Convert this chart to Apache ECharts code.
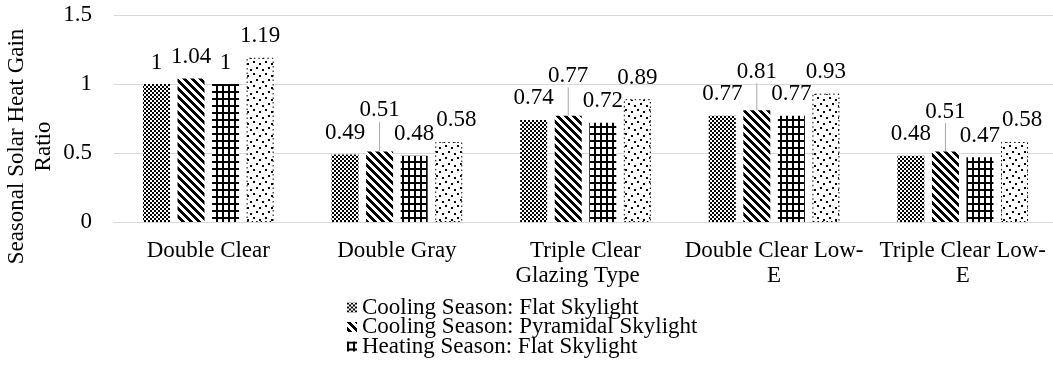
<!DOCTYPE html>
<html>
<head>
<meta charset="utf-8">
<script src="https://cdn.jsdelivr.net/npm/echarts@6/dist/echarts.min.js"></script>
<style>
html,body{margin:0;padding:0;background:#fff;}
#c{width:1053px;height:367px;}
</style>
</head>
<body>
<div id="c"></div>
<script>
// ---- data ----
const categories = ['Double Clear', 'Double Gray', 'Triple Clear', 'Double Clear Low-E', 'Triple Clear Low-E'];
const seriesNames = ['Cooling Season: Flat Skylight', 'Cooling Season: Pyramidal Skylight', 'Heating Season: Flat Skylight', 'Heating Season: Pyramidal Skylight'];
const coolingFlat = [1, 0.49, 0.74, 0.77, 0.48];
const coolingPyramidal = [1.04, 0.51, 0.77, 0.81, 0.51];
const heatingFlat = [1, 0.48, 0.72, 0.77, 0.47];
const heatingPyramidal = [1.19, 0.58, 0.89, 0.93, 0.58];
const yMin = 0, yMax = 1.5, yInterval = 0.5;
const xTitle = 'Glazing Type';
const yTitle = 'Seasonal Solar Heat Gain\nRatio';

const seriesValues = [coolingFlat, coolingPyramidal, heatingFlat, heatingPyramidal];

// ---- styles ----
const FONT = '"Liberation Serif", "Times New Roman", serif';
const FS = 23;
const BAR_W = 27;
const BAR_GAP = 0.28;
const LABEL_DIST = 10;

function makeTile(w, h, fn) {
  const c = document.createElement('canvas');
  c.width = w; c.height = h;
  const ctx = c.getContext('2d');
  ctx.fillStyle = '#fff'; ctx.fillRect(0, 0, w, h);
  ctx.fillStyle = '#000';
  for (let y = 0; y < h; y++) for (let x = 0; x < w; x++) if (fn(x, y)) ctx.fillRect(x, y, 1, 1);
  return c;
}
const dotSpots = [[1,1],[7,3],[4,7],[10,9]];
const tiles = [
  makeTile(4, 4, (x, y) => (((x >> 1) + (y >> 1)) % 2) === 0),
  makeTile(8, 8, (x, y) => ((x - y + 16) % 8) < 4),
  makeTile(6, 7, (x, y) => x < 2 || y < 2),
  makeTile(12, 12, (x, y) => dotSpots.some(p => x >= p[0] && x < p[0] + 2 && y >= p[1] && y < p[1] + 2))
];

// label text measurement
const mctx = document.createElement('canvas').getContext('2d');
mctx.font = FS + 'px ' + FONT;
function textW(t) { return mctx.measureText(String(t)).width; }

let labelPos = null;

const option = {
  animation: false,
  textStyle: { fontFamily: FONT },
  grid: { left: 114, top: 15, width: 943, height: 207, containLabel: false, outerBoundsMode: 'none' },
  legend: {
    data: seriesNames.slice(0, 3),
    orient: 'vertical',
    left: 347, top: 296,
    padding: 0, itemGap: -3.5,
    itemWidth: 10, itemHeight: 10,
    icon: 'rect',
    selectedMode: false,
    textStyle: { fontSize: FS, color: '#000', fontFamily: FONT }
  },
  xAxis: {
    type: 'category',
    data: categories,
    axisLine: { lineStyle: { color: '#d9d9d9', width: 1 } },
    axisTick: { show: false },
    axisLabel: {
      interval: 0, color: '#000', fontSize: FS, lineHeight: 25, margin: 16, fontFamily: FONT,
      formatter: v => v.replace(/Low-E$/, 'Low-\nE')
    },
    name: xTitle,
    nameLocation: 'middle',
    nameGap: 41,
    nameMoveOverlap: false,
    nameTextStyle: { color: '#000', fontSize: FS, lineHeight: 25, fontFamily: FONT, padding: [0, 16, 0, 0] }
  },
  yAxis: {
    type: 'value',
    min: yMin, max: yMax, interval: yInterval,
    axisLine: { show: false },
    axisTick: { show: false },
    axisLabel: { color: '#000', fontSize: FS, margin: 22, fontFamily: FONT },
    splitLine: { lineStyle: { color: '#d9d9d9', width: 1 } },
    name: yTitle,
    nameLocation: 'middle',
    nameRotate: 90,
    nameGap: 57,
    nameMoveOverlap: false,
    nameTextStyle: { color: '#000', fontSize: FS, lineHeight: 27, fontFamily: FONT, align: 'center', padding: [0, 56, 0, 0] }
  },
  series: seriesValues.map((vals, s) => ({
    name: seriesNames[s],
    type: 'bar',
    data: vals,
    barWidth: BAR_W,
    barGap: (BAR_GAP * 100) + '%',
    itemStyle: Object.assign(
      { color: { image: tiles[s], repeat: 'repeat' } },
      s === 3 ? { borderColor: '#000', borderWidth: 1, borderType: [1.5, 3] } : {}
    ),
    label: { show: true, position: 'top', distance: LABEL_DIST, color: '#000', fontSize: FS, fontFamily: FONT },
    labelLine: { show: false, lineStyle: { color: '#a6a6a6', width: 1 } },
    labelLayout: function (params) {
      const p = labelPos && labelPos[params.seriesIndex] && labelPos[params.seriesIndex][params.dataIndex];
      if (!p || !p.moved) return {};
      return { x: p.cx, y: p.cy, align: 'center', verticalAlign: 'middle' };
    }
  }))
};

const chart = echarts.init(document.getElementById('c'), null, { renderer: 'canvas' });
chart.setOption(option);

// ---- label collision layout (Excel-like): raise the 2nd label, push neighbours sideways ----
function computeLabels() {
  const H = 22, OFF = LABEL_DIST + 12;
  const step = BAR_W * (1 + BAR_GAP);
  const res = seriesValues.map(() => []);
  categories.forEach((cat, i) => {
    const b = seriesValues.map((vals, s) => {
      const pt = chart.convertToPixel({ gridIndex: 0 }, [i, vals[i]]);
      const cx = pt[0] + (s - (seriesValues.length - 1) / 2) * step;
      return { cx: cx, cy: pt[1] - OFF, w: textW(vals[i]) + 2, h: H, moved: false, lead: false };
    });
    const ov = (a, c) => Math.abs(a.cx - c.cx) < (a.w + c.w) / 2 && Math.abs(a.cy - c.cy) < (a.h + c.h) / 2;
    const nb = [b[0], b[2]].filter(x => ov(b[1], x));
    if (nb.length) {
      const top = Math.min.apply(null, nb.map(x => x.cy - x.h / 2));
      b[1].cy = top - b[1].h / 2;
      b[1].moved = true; b[1].lead = true;
    }
    if (ov(b[2], b[3])) {
      b[3].cx += (b[2].w + b[3].w) / 2 - Math.abs(b[3].cx - b[2].cx);
      b[3].moved = true;
    }
    if (ov(b[0], b[1])) {
      b[0].cx -= (b[0].w + b[1].w) / 2 - Math.abs(b[1].cx - b[0].cx);
      b[0].moved = true;
    }
    b.forEach((bx, s) => { res[s][i] = bx; });
  });
  return res;
}
labelPos = computeLabels();
chart.setOption({
  series: seriesValues.map((vals, s) => ({
    data: vals.map((v, i) => ({ value: v, labelLine: { show: labelPos[s][i].lead } }))
  }))
});
</script>
</body>
</html>
